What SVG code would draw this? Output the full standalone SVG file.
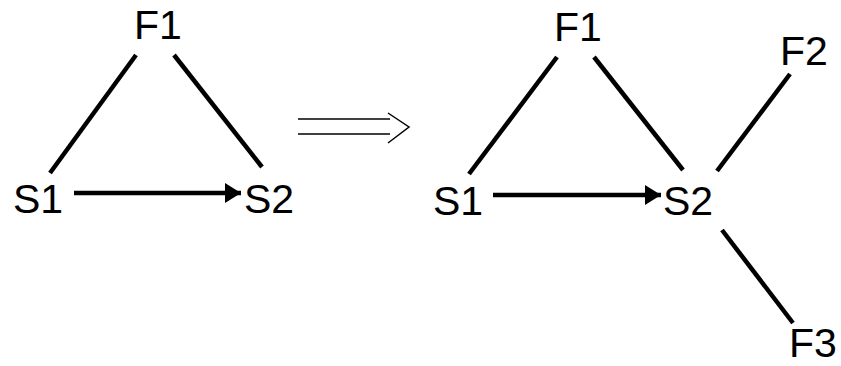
<svg xmlns="http://www.w3.org/2000/svg" width="841" height="366" viewBox="0 0 841 366">
<style>
.lbl{font-family:"Liberation Sans",Arial,sans-serif;font-size:41px;fill:#000}
.edge{stroke:#000;stroke-width:4.5;fill:none}
.thin{stroke:#000;stroke-width:1.5;fill:none}
</style>
<defs>
<marker id="ah" markerUnits="userSpaceOnUse" markerWidth="18" markerHeight="20" refX="16" refY="10" orient="auto">
<path d="M0,0 L16,10 L0,20 Z" fill="#000"/>
</marker>
</defs>
<rect width="841" height="366" fill="#fff"/>
<g id="connectors">
<line class="edge" x1="136" y1="55" x2="50" y2="173"/>
<line class="edge" x1="174" y1="55" x2="262" y2="167"/>
<line class="edge" x1="74" y1="193" x2="241" y2="193" marker-end="url(#ah)"/>
<line class="edge" x1="557" y1="57" x2="469" y2="174"/>
<line class="edge" x1="594" y1="57" x2="683" y2="170"/>
<line class="edge" x1="493" y1="195" x2="661" y2="195" marker-end="url(#ah)"/>
<line class="edge" x1="790" y1="74" x2="717" y2="171"/>
<line class="edge" x1="722" y1="230" x2="793" y2="323"/>
</g>
<g id="implies">
<line class="thin" x1="298" y1="119" x2="390" y2="119"/>
<line class="thin" x1="298" y1="134" x2="390" y2="134"/>
<polyline class="thin" points="388,113 409,127 388,143"/>
</g>
<g id="L-F1"><text class="lbl" x="134" y="39">F1</text></g>
<g id="L-S1"><text class="lbl" x="13" y="213">S1</text></g>
<g id="L-S2"><text class="lbl" x="244" y="213">S2</text></g>
<g id="R-F1"><text class="lbl" x="554" y="41">F1</text></g>
<g id="R-S1"><text class="lbl" x="433" y="215">S1</text></g>
<g id="R-S2"><text class="lbl" x="663" y="215">S2</text></g>
<g id="R-F2"><text class="lbl" x="780" y="65">F2</text></g>
<g id="R-F3"><text class="lbl" x="789" y="357">F3</text></g>
</svg>
